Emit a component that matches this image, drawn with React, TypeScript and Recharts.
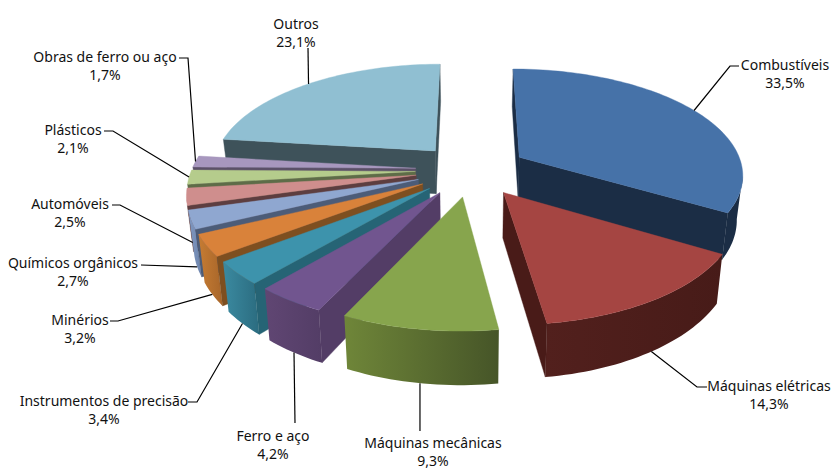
import React from 'react';
import { PieChart, Pie } from 'recharts';

const categories = ['Combustíveis', 'Máquinas elétricas', 'Máquinas mecânicas', 'Ferro e aço', 'Instrumentos de precisão', 'Minérios', 'Químicos orgânicos', 'Automóveis', 'Plásticos', 'Obras de ferro ou aço', 'Outros'];
const shares = [33.5, 14.3, 9.3, 4.2, 3.4, 3.2, 2.7, 2.5, 2.1, 1.7, 23.1];

const topColors = ['#4672A8', '#A54542', '#87A54D', '#71558F', '#3D93AC', '#D9823A', '#8FA7D0', '#CF8E8D', '#B5CC8C', '#A797BE', '#90BFD2'];
const radialColors = ['#1B2D45', '#491B18', '#47562A', '#533D66', '#266475', '#7E4F20', '#4C5C78', '#5D3E40', '#5E6C48', '#5B5068', '#3E525A'];
const rimNearColors = ['#1B2D45', '#471B18', '#465528', '#533D66', '#2B6C80', '#A8662A', '#6F86AE', '#8A5A5A', '#7A8A5C', '#6F6080', '#3E525A'];
const rimFarColors = ['#1B2D45', '#52201D', '#6F8639', '#604673', '#3B8AA0', '#C67C33', '#7F97C0', '#A87070', '#8CA066', '#7F7090', '#3E525A'];

const table = categories.map((name, i) => ({ name, value: shares[i], idx: i }));
const reversedTable = [...table].reverse();

// 3D camera model
const PERSPECTIVE = 0.15;
const FLATTEN = 105 / 224;
const EXPLODE = 0.25;
const THICKNESS = 44;
const SHRINK = 0.978;
const rad = (d: number) => (d * Math.PI) / 180;

type P = { x: number; y: number };
function project(cx: number, cy: number, R: number, r: number, theta: number, mid: number, low: boolean): P {
  const X = r * Math.sin(rad(theta)) + EXPLODE * Math.sin(rad(mid));
  const Z = r * Math.cos(rad(theta)) + EXPLODE * Math.cos(rad(mid));
  const w = 1 + PERSPECTIVE * Z;
  const x = (R * X) / w;
  const y = (-R * FLATTEN * Z) / w;
  if (!low) return { x: cx + x, y: cy + y };
  return { x: cx + x * SHRINK, y: cy + y + THICKNESS / w };
}
const pts = (a: P[]) => a.map((p) => `${p.x.toFixed(2)},${p.y.toFixed(2)}`).join(' ');

function angleRange(startAngle: number, endAngle: number) {
  const hi = Math.max(startAngle, endAngle);
  const lo = Math.min(startAngle, endAngle);
  const t1 = ((90 - hi) % 360 + 360) % 360;
  return [t1, t1 + (hi - lo)];
}

function Slice3D(props: any, pick: (i: number) => boolean) {
  const { cx, cy, outerRadius: R, startAngle, endAngle } = props;
  const i = props.idx ?? props.payload?.idx;
  if (!pick(i)) return <g />;
  const [t1, t2] = angleRange(startAngle, endAngle);
  const mid = (t1 + t2) / 2;
  const n = Math.max(3, Math.ceil((t2 - t1) / 1.5));
  const thetas = Array.from({ length: n + 1 }, (_, k) => t1 + ((t2 - t1) * k) / n);
  const up = thetas.map((t) => project(cx, cy, R, 1, t, mid, false));
  const dn = thetas.map((t) => project(cx, cy, R, 1, t, mid, true));
  const a = project(cx, cy, R, 0, mid, mid, false);
  const b = project(cx, cy, R, 0, mid, mid, true);
  const rad0 = radialColors[i];
  // the part of the outer wall that faces the viewer
  const run: number[] = [];
  for (let k = 0; k <= n; k++) {
    const back = k > 0 && up[k].x - up[k - 1].x < 0;
    const fwd = k < n && up[k + 1].x - up[k].x < 0;
    if (back || fwd) run.push(k);
  }
  const rimUp = run.map((k) => up[k]);
  const rimDn = run.map((k) => dn[k]).reverse();
  const xs = [...rimUp, ...rimDn].map((p) => p.x);
  const gid = `rim-${i}`;
  return (
    <g>
      {run.length > 1 && (
        <>
          <defs>
            <linearGradient id={gid} gradientUnits="userSpaceOnUse" x1={Math.min(...xs)} x2={Math.max(...xs)} y1={0} y2={0}>
              <stop offset="0" stopColor={rimFarColors[i]} />
              <stop offset="1" stopColor={rimNearColors[i]} />
            </linearGradient>
          </defs>
          <polygon points={pts([...rimUp, ...rimDn])} fill={`url(#${gid})`} />
        </>
      )}
      {up[0].x - a.x < 0 && <polygon points={pts([a, up[0], dn[0], b])} fill={rad0} stroke={rad0} strokeWidth={0.4} />}
      {a.x - up[n].x < 0 && <polygon points={pts([up[n], a, b, dn[n]])} fill={rad0} stroke={rad0} strokeWidth={0.4} />}
      <polygon points={pts([a, ...up])} fill={topColors[i]} stroke={topColors[i]} strokeWidth={0.4} />
    </g>
  );
}

// label boxes: centre x, first line y, leader start and elbow
const labelLayout: Record<string, { x: number; y: number; from: [number, number]; elbow?: [number, number]; low: boolean }> = {
  'Combustíveis': { x: 785, y: 64, from: [739, 66], elbow: [730, 66], low: false },
  'Máquinas elétricas': { x: 769, y: 385, from: [707, 387], elbow: [697, 387], low: true },
  'Máquinas mecânicas': { x: 433, y: 442, from: [420, 431], low: true },
  'Ferro e aço': { x: 273, y: 435, from: [295, 423], low: true },
  'Instrumentos de precisão': { x: 104, y: 400, from: [188, 402], elbow: [197, 402], low: true },
  'Minérios': { x: 80, y: 319, from: [110, 321], elbow: [118, 321], low: true },
  'Químicos orgânicos': { x: 73, y: 262, from: [141, 265], low: true },
  'Automóveis': { x: 70, y: 203, from: [112, 205], elbow: [120, 205], low: true },
  'Plásticos': { x: 73, y: 129, from: [104, 131], elbow: [113, 131], low: false },
  'Obras de ferro ou aço': { x: 105, y: 56, from: [179, 58], elbow: [188, 58], low: false },
  'Outros': { x: 296, y: 23, from: [308, 48], low: false },
};

function renderLabel(props: any) {
  const { cx, cy, outerRadius: R, startAngle, endAngle, value } = props;
  const name = props.name ?? props.payload?.name;
  const item = labelLayout[name];
  if (!item) return <g />;
  const [t1, t2] = angleRange(startAngle, endAngle);
  const mid = (t1 + t2) / 2;
  const end = project(cx, cy, R, 1, mid, mid, item.low);
  const line = [item.from, ...(item.elbow ? [item.elbow] : []), [end.x, end.y]] as number[][];
  return (
    <g>
      <polyline points={line.map((p) => p.join(',')).join(' ')} fill="none" stroke="#000" strokeWidth={1.2} />
      <text x={item.x} y={item.y} textAnchor="middle" dominantBaseline="central" fontFamily="'Noto Sans', sans-serif" fontSize={14} fill="#111">{name}</text>
      <text x={item.x} y={item.y + 18} textAnchor="middle" dominantBaseline="central" fontFamily="'Noto Sans', sans-serif" fontSize={14} fill="#111">{`${Number(value).toFixed(1).replace('.', ',')}%`}</text>
    </g>
  );
}

const backRight = (i: number) => i < 2;
const others = (i: number) => i >= 2;

export default function App() {
  return (
    <div style={{ position: 'absolute', left: 0, top: 0, width: 831, height: 469, background: '#fff' }}>
      <PieChart width={831} height={469} margin={{ top: 0, right: 0, bottom: 0, left: 0 }}>
        <Pie data={table} dataKey="value" nameKey="name" cx={471.5} cy={170} innerRadius={0} outerRadius={224} startAngle={90} endAngle={-270} stroke="none" isAnimationActive={false} labelLine={false} shape={(p: any) => Slice3D(p, backRight)} />
        <Pie data={reversedTable} dataKey="value" nameKey="name" cx={471.5} cy={170} innerRadius={0} outerRadius={224} startAngle={-270} endAngle={90} stroke="none" isAnimationActive={false} labelLine={false} label={renderLabel} shape={(p: any) => Slice3D(p, others)} />
      </PieChart>
    </div>
  );
}
